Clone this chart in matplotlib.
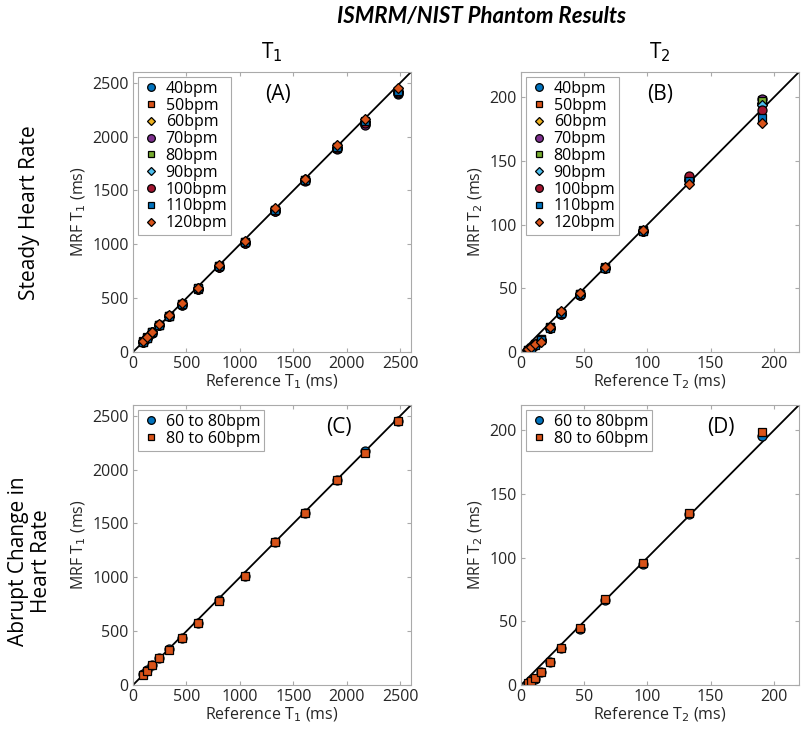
import numpy as np
import matplotlib
matplotlib.use("Agg")
import matplotlib.pyplot as plt

plt.rcParams['font.family'] = ['Open Sans', 'DejaVu Sans']

# Reference values (ISMRM/NIST phantom)
ref_t1 = [91, 127, 177, 244, 337, 458, 609, 802, 1044, 1332, 1604, 1907, 2173, 2480]
ref_t2 = [5.6, 7.9, 11.2, 15.8, 22.6, 32.0, 46.4, 66.5, 96.9, 133.3, 190.9]

# Steady heart rate, MRF T1
bpm_labels = ['40bpm', '50bpm', '60bpm', '70bpm', '80bpm', '90bpm', '100bpm', '110bpm', '120bpm']
t1_40 = [95, 130, 180, 250, 330, 440, 585, 790, 1015, 1310, 1595, 1890, 2120, 2400]
t1_50 = [98, 135, 185, 255, 335, 445, 590, 795, 1020, 1320, 1600, 1900, 2140, 2420]
t1_60 = [97, 133, 183, 252, 333, 443, 588, 792, 1018, 1315, 1598, 1895, 2135, 2415]
t1_70 = [96, 131, 181, 250, 330, 440, 582, 788, 1012, 1310, 1592, 1885, 2110, 2405]
t1_80 = [97, 134, 184, 253, 334, 444, 589, 794, 1020, 1318, 1600, 1898, 2138, 2420]
t1_90 = [98, 135, 186, 255, 336, 446, 592, 797, 1024, 1322, 1603, 1902, 2145, 2425]
t1_100 = [96, 132, 182, 251, 332, 442, 586, 790, 1016, 1312, 1595, 1890, 2125, 2410]
t1_110 = [97, 134, 184, 254, 335, 445, 590, 796, 1022, 1320, 1601, 1900, 2142, 2422]
t1_120 = [100, 138, 190, 258, 340, 452, 598, 805, 1030, 1335, 1610, 1920, 2165, 2450]

# Steady heart rate, MRF T2
t2_40 = [1.5, 3.0, 5.5, 9.5, 19.0, 30.0, 45.0, 66.0, 95.0, 135.0, 195.0]
t2_50 = [1.8, 3.4, 6.0, 10.0, 19.5, 31.0, 45.5, 66.5, 95.5, 136.0, 198.0]
t2_60 = [1.6, 3.2, 5.8, 9.8, 19.2, 30.5, 45.2, 66.2, 95.2, 135.5, 196.0]
t2_70 = [1.4, 2.9, 5.4, 9.4, 18.8, 29.8, 44.8, 65.8, 94.8, 136.5, 199.0]
t2_80 = [1.7, 3.3, 5.9, 9.9, 19.3, 30.8, 45.3, 66.3, 95.3, 135.8, 197.0]
t2_90 = [1.6, 3.1, 5.7, 9.6, 19.1, 30.3, 45.1, 66.1, 95.1, 135.2, 194.0]
t2_100 = [1.5, 3.0, 5.6, 9.5, 19.0, 30.2, 45.0, 66.0, 95.0, 138.0, 190.0]
t2_110 = [1.6, 3.1, 5.7, 9.7, 19.2, 30.6, 45.2, 66.2, 95.2, 134.0, 184.0]
t2_120 = [2.0, 3.8, 6.5, 7.5, 19.5, 32.0, 46.0, 67.0, 95.5, 132.0, 180.0]

# Abrupt change in heart rate
change_labels = ['60 to 80bpm', '80 to 60bpm']
t1_60_80 = [98, 135, 185, 255, 330, 440, 580, 785, 1010, 1330, 1595, 1905, 2175, 2450]
t1_80_60 = [97, 134, 184, 254, 328, 438, 578, 783, 1008, 1328, 1593, 1903, 2150, 2448]
t2_60_80 = [1.0, 3.0, 5.0, 10.0, 18.0, 29.0, 44.0, 67.0, 95.0, 134.0, 196.0]
t2_80_60 = [1.2, 3.2, 5.3, 10.2, 18.3, 29.3, 44.5, 67.5, 96.0, 135.0, 199.0]

colors = ['#0072BD', '#D95319', '#EDB120', '#7E2F8E', '#77AC30', '#4DBEEE', '#A2142F', '#0072BD', '#D95319']
markers = ['o', 's', 'D', 'o', 's', 'D', 'o', 's', 'D']
msizes = {'o': 6.5, 's': 5.5, 'D': 5.0}

fig = plt.figure(figsize=(8.05, 7.33), dpi=100)

W, H = 805, 733
def add_ax(left, top):
    return fig.add_axes([left / W, (H - top - 280) / H, 278 / W, 280 / H])

axA = add_ax(133, 72)
axB = add_ax(521, 72)
axC = add_ax(133, 405)
axD = add_ax(521, 405)


def style(ax, lim, ticks, xlabel, ylabel, tag, tag_x):
    ax.axline((0, 0), slope=1, color='black', lw=1.3, zorder=1)
    ax.set_xlim(0, lim)
    ax.set_ylim(0, lim)
    ax.set_xticks(ticks)
    ax.set_yticks(ticks)
    ax.tick_params(direction='in', length=3, top=True, right=True, labelsize=11.5,
                   colors='#aaaaaa', labelcolor='#262626', pad=3)
    for s in ax.spines.values():
        s.set_color('#aaaaaa')
    ax.set_xlabel(xlabel, fontsize=11.5, color='#262626', labelpad=0)
    ax.set_ylabel(ylabel, fontsize=11.5, color='#262626', labelpad=3)
    ax.text(tag_x, 0.92, tag, transform=ax.transAxes, fontsize=15, ha='center', va='center')


t1_all = [t1_40, t1_50, t1_60, t1_70, t1_80, t1_90, t1_100, t1_110, t1_120]
t2_all = [t2_40, t2_50, t2_60, t2_70, t2_80, t2_90, t2_100, t2_110, t2_120]

for vals, lab, c, m in zip(t1_all, bpm_labels, colors, markers):
    axA.plot(ref_t1, vals, linestyle='none', marker=m, ms=msizes[m], mfc=c, mec='black', mew=0.9, label=lab)
for vals, lab, c, m in zip(t2_all, bpm_labels, colors, markers):
    axB.plot(ref_t2, vals, linestyle='none', marker=m, ms=msizes[m], mfc=c, mec='black', mew=0.9, label=lab)

for vals, lab, c, m in zip([t1_60_80, t1_80_60], change_labels, colors[:2], markers[:2]):
    axC.plot(ref_t1, vals, linestyle='none', marker=m, ms=msizes[m], mfc=c, mec='black', mew=0.9, label=lab)
for vals, lab, c, m in zip([t2_60_80, t2_80_60], change_labels, colors[:2], markers[:2]):
    axD.plot(ref_t2, vals, linestyle='none', marker=m, ms=msizes[m], mfc=c, mec='black', mew=0.9, label=lab)

style(axA, 2600, [0, 500, 1000, 1500, 2000, 2500], 'Reference T$_1$ (ms)', 'MRF T$_1$ (ms)', '(A)', 0.52)
style(axB, 220, [0, 50, 100, 150, 200], 'Reference T$_2$ (ms)', 'MRF T$_2$ (ms)', '(B)', 0.5)
style(axC, 2600, [0, 500, 1000, 1500, 2000, 2500], 'Reference T$_1$ (ms)', 'MRF T$_1$ (ms)', '(C)', 0.74)
style(axD, 220, [0, 50, 100, 150, 200], 'Reference T$_2$ (ms)', 'MRF T$_2$ (ms)', '(D)', 0.72)

for ax in [axA, axB, axC, axD]:
    leg = ax.legend(loc='upper left', fontsize=11.5, fancybox=False, edgecolor='#aaaaaa',
                    handletextpad=0.3, handlelength=1.2, borderpad=0.25, labelspacing=0.05,
                    borderaxespad=0.3, framealpha=1, markerscale=0.85)
    leg.get_frame().set_linewidth(0.8)

fig.text(481 / W, 1 - 16 / H, 'ISMRM/NIST Phantom Results', ha='center', va='center',
         fontsize=16, fontweight='bold', style='italic', family=['Lato', 'DejaVu Sans'])
fig.text(272 / W, 1 - 52 / H, 'T$_1$', ha='center', va='center', fontsize=15)
fig.text(660 / W, 1 - 52 / H, 'T$_2$', ha='center', va='center', fontsize=15)
fig.text(29 / W, 1 - 213 / H, 'Steady Heart Rate', ha='center', va='center', rotation=90, fontsize=15)
fig.text(30 / W, 1 - 561 / H, 'Abrupt Change in\nHeart Rate', ha='center', va='center',
         rotation=90, fontsize=15, linespacing=1.1)

fig.savefig('out.png', dpi=100)
